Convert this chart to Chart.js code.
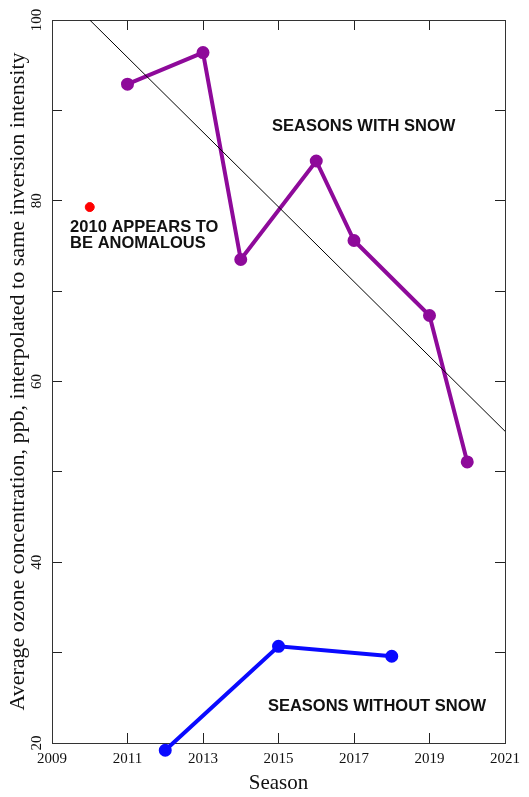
<!DOCTYPE html>
<html>
<head>
<meta charset="utf-8">
<script src="https://cdn.jsdelivr.net/npm/chart.js@4"></script>
<style>
body { margin: 0; background: #fff; }
#wrap { width: 529px; height: 797px; position: relative; }
</style>
</head>
<body>
<div id="wrap"><canvas id="ozChart"></canvas></div>
<script>
// ===== OZONE CHART DATA =====
const snowYears = [2011, 2013, 2014, 2016, 2017, 2019, 2020];
const snowValues = [92.9, 96.4, 73.5, 84.4, 75.6, 67.3, 51.1];

const noSnowYears = [2012, 2015, 2018];
const noSnowValues = [19.2, 30.7, 29.6];

const anomalyYears = [2010];
const anomalyValues = [79.3];

const trendYears = [2010, 2021];
const trendValues = [100, 54.5];

const yLabelTicks = [20, 40, 60, 80, 100];

// text notes, placed in data units
const notes = [
    { text: 'SEASONS WITH SNOW', x: 2014.83, y: 88.2 },
    { text: '2010 APPEARS TO', x: 2009.48, y: 77.0 },
    { text: 'BE ANOMALOUS', x: 2009.48, y: 75.3 },
    { text: 'SEASONS WITHOUT SNOW', x: 2014.72, y: 24.0 }
];

function toPoints(xs, ys) {
    return xs.map((x, i) => ({ x: x, y: ys[i] }));
}

const serif = '"Liberation Serif", "DejaVu Serif", serif';

const notesPlugin = {
    id: 'notes',
    afterDatasetsDraw(chart) {
        const { ctx, scales: { x, y } } = chart;
        ctx.save();
        ctx.font = 'bold 16.5px "Liberation Sans", Arial, sans-serif';
        ctx.fillStyle = '#111';
        ctx.textAlign = 'left';
        ctx.textBaseline = 'middle';
        notes.forEach(n => {
            ctx.fillText(n.text, x.getPixelForValue(n.x), y.getPixelForValue(n.y));
        });
        ctx.restore();
    }
};

const tickGrid = {
    drawOnChartArea: false,
    drawTicks: true,
    tickLength: -10,
    color: '#222',
    lineWidth: 1
};
const frame = { display: true, color: '#333', width: 1 };

// no extra side padding for the end labels
function fitX(h) {
    return s => { s.height = h; s.paddingLeft = 0; s.paddingRight = 0; };
}
function fitY(w) {
    return s => { s.width = w; s.paddingTop = 0; s.paddingBottom = 0; };
}

new Chart(document.getElementById('ozChart'), {
    type: 'line',
    data: {
        datasets: [
            {
                label: 'Trend',
                data: toPoints(trendYears, trendValues),
                borderColor: '#000',
                borderWidth: 1,
                pointRadius: 0,
                clip: true
            },
            {
                label: 'Seasons with snow',
                data: toPoints(snowYears, snowValues),
                borderColor: '#8e0a9a',
                backgroundColor: '#8e0a9a',
                borderWidth: 4,
                pointRadius: 4.5,
                clip: false
            },
            {
                label: 'Seasons without snow',
                data: toPoints(noSnowYears, noSnowValues),
                borderColor: '#0a0aff',
                backgroundColor: '#0a0aff',
                borderWidth: 4,
                pointRadius: 4.5,
                clip: false
            },
            {
                label: '2010',
                data: toPoints(anomalyYears, anomalyValues),
                showLine: false,
                borderColor: '#ff0000',
                backgroundColor: '#ff0000',
                pointRadius: 4.5,
                clip: false
            }
        ]
    },
    options: {
        responsive: true,
        maintainAspectRatio: false,
        animation: false,
        layout: {
            padding: { top: 20, right: 24, left: 0, bottom: 0 }
        },
        plugins: {
            legend: { display: false },
            tooltip: { enabled: false }
        },
        scales: {
            x: {
                type: 'linear',
                position: 'bottom',
                min: 2009,
                max: 2021,
                afterFit: fitX(54),
                ticks: {
                    stepSize: 2,
                    padding: 17,
                    color: '#111',
                    font: { family: serif, size: 15 },
                    callback: v => String(v)
                },
                grid: tickGrid,
                border: frame,
                title: {
                    display: true,
                    text: 'Season',
                    color: '#111',
                    font: { family: serif, size: 21 },
                    padding: { top: 0, bottom: 1 }
                }
            },
            x2: {
                type: 'linear',
                position: 'top',
                min: 2009,
                max: 2021,
                afterFit: fitX(0),
                ticks: { stepSize: 2, display: false },
                grid: tickGrid,
                border: frame
            },
            y: {
                type: 'linear',
                position: 'left',
                min: 20,
                max: 100,
                afterFit: fitY(52),
                ticks: {
                    stepSize: 10,
                    padding: 14,
                    minRotation: 90,
                    maxRotation: 90,
                    crossAlign: 'center',
                    color: '#111',
                    font: { family: serif, size: 15 },
                    callback: v => yLabelTicks.includes(v) ? String(v) : ''
                },
                grid: tickGrid,
                border: frame,
                title: {
                    display: true,
                    text: 'Average ozone concentration, ppb, interpolated to same inversion intensity',
                    color: '#111',
                    font: { family: serif, size: 22 },
                    padding: { top: 5, bottom: 0 }
                }
            },
            y2: {
                type: 'linear',
                position: 'right',
                min: 20,
                max: 100,
                afterFit: fitY(0),
                ticks: { stepSize: 10, display: false },
                grid: tickGrid,
                border: frame
            }
        }
    },
    plugins: [notesPlugin]
});
</script>
</body>
</html>
